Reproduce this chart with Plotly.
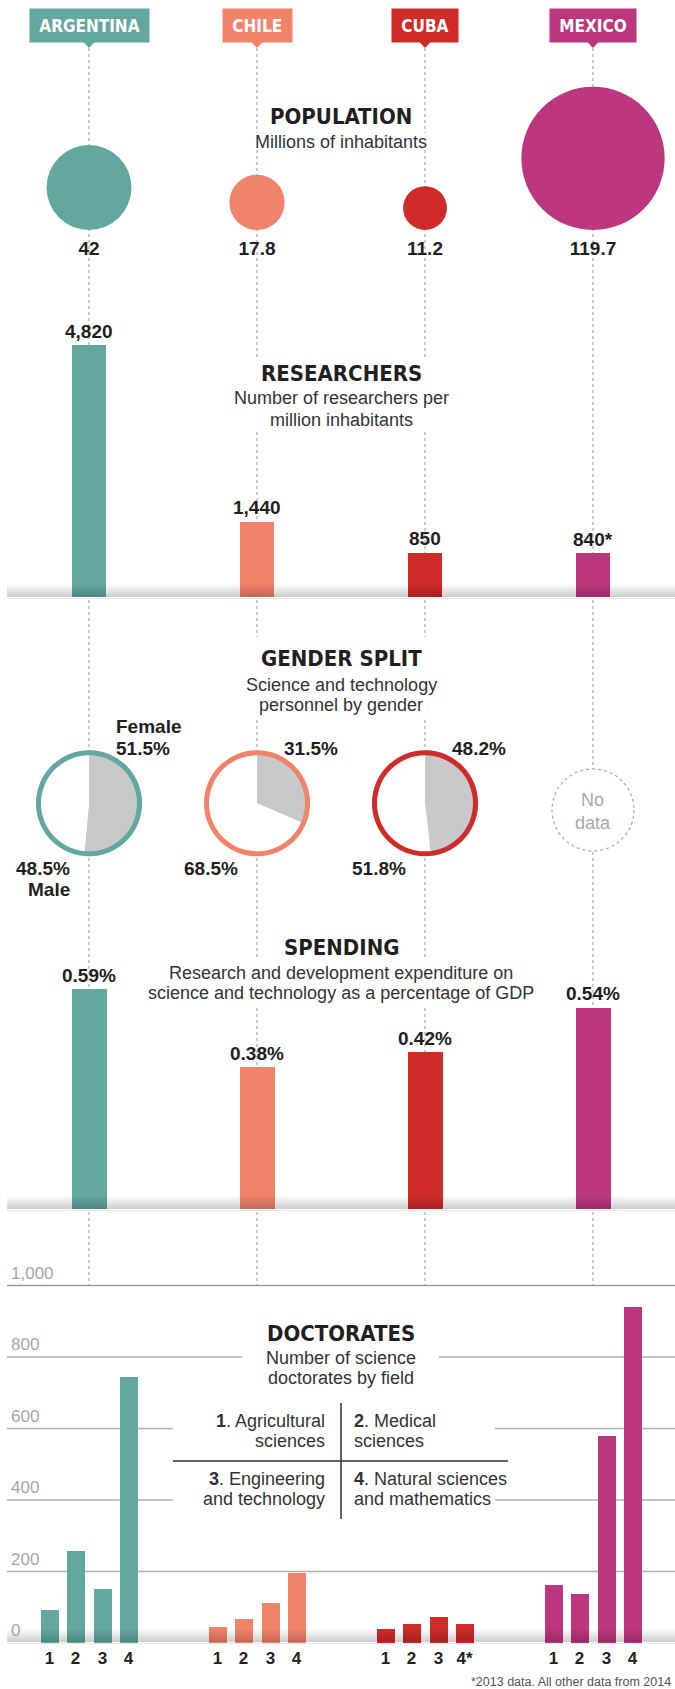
import math
import plotly.graph_objects as go

W, H = 675, 1689

# ---------------- data ----------------
countries = ["ARGENTINA", "CHILE", "CUBA", "MEXICO"]
colors = ["#63a89f", "#f2836b", "#cf2b29", "#bc377d"]

population = [42, 17.8, 11.2, 119.7]            # millions
researchers = [4820, 1440, 850, 840]            # per million inhabitants
researchers_note = ["", "", "", "*"]
female_pct = [51.5, 31.5, 48.2, None]
male_pct = [48.5, 68.5, 51.8, None]
spending = [0.59, 0.38, 0.42, 0.54]             # % of GDP

doct_agricultural = [91, 46, 38, 161]
doct_medical = [256, 66, 52, 136]
doct_engineering = [150, 113, 74, 579]
doct_natural = [744, 197, 52, 939]
doct_ticktext = [["1", "2", "3", "4"], ["1", "2", "3", "4"],
                 ["1", "2", "3", "4*"], ["1", "2", "3", "4"]]
doct_yticks = [0, 200, 400, 600, 800, 1000]
doct_yticklabels = ["0", "200", "400", "600", "800", "1,000"]
field_legend = [("1", ["Agricultural", "sciences"]),
                ("2", ["Medical", "sciences"]),
                ("3", ["Engineering", "and technology"]),
                ("4", ["Natural sciences", "and mathematics"])]

# ---------------- styling ----------------
TITLE_FONT = "Liberation Sans Narrow, Arial Narrow, DejaVu Sans Condensed, sans-serif"
BODY_FONT = "Liberation Sans, Arial, Helvetica, sans-serif"
INK = "#231f20"
SUB = "#333333"
PIE_GRAY = "#c8c9cb"

CX0, DX = 89.0, 168.0          # first column centre (px) and spacing (px)
XR = [-CX0 / DX, (W - CX0) / DX]


def py(px):
    return 1 - px / H


fig = go.Figure()
shapes = []
ann = []

# ---------------- axes ----------------
RS = 252.0 / 4820          # researchers px per unit
SS = 220.0 / 0.59          # spending px per unit
DS = 0.3575                # doctorates px per unit
POP_K = 6.55               # circle radius px per sqrt(million)

layout_axes = dict(
    xaxis=dict(domain=[0, 1], range=XR, visible=False, anchor="y"),
    yaxis=dict(domain=[py(270), py(40)], range=[-40, 190], visible=False, anchor="x"),
    xaxis2=dict(domain=[0, 1], range=XR, visible=False, anchor="y2"),
    yaxis2=dict(domain=[py(597), py(300)], range=[0, 297 / RS], visible=False, anchor="x2"),
    xaxis3=dict(domain=[0, 1], range=XR, visible=False, anchor="y3"),
    yaxis3=dict(domain=[py(1209), py(900)], range=[0, 309 / SS], visible=False, anchor="x3"),
    yaxis4=dict(domain=[py(1643), py(1270)], range=[0, 373 / DS], visible=False, anchor="x4"),
)

# ---------------- dotted guide lines ----------------
for i in range(4):
    shapes.append(dict(type="line", xref="x", yref="paper", x0=i, x1=i,
                       y0=py(48), y1=py(1286),
                       line=dict(color="#9a9a9a", width=1, dash="dot"), layer="below"))
# white masks behind title blocks
for (ya, yb) in [(133, 150), (357, 430), (637, 720), (958, 1006)]:
    shapes.append(dict(type="rect", xref="paper", yref="paper",
                       x0=232 / W, x1=450 / W, y0=py(yb), y1=py(ya),
                       fillcolor="white", line=dict(width=0), layer="below"))

# ---------------- header labels ----------------
for i, (name, col) in enumerate(zip(countries, colors)):
    ann.append(dict(xref="x", yref="paper", x=i, y=py(8), xanchor="center", yanchor="top",
                    text="&nbsp;" + name + "&nbsp;", showarrow=False, bgcolor=col,
                    borderpad=4, height=25,
                    font=dict(family=TITLE_FONT, size=17, color="white", weight="bold")))
    shapes.append(dict(type="path", xref="x", yref="paper", layer="above",
                       path=f"M {i - 7 / DX},{py(40.5)} L {i + 7 / DX},{py(40.5)} L {i},{py(48)} Z",
                       fillcolor=col, line=dict(width=0)))


def section_title(title, sub_lines, y_title, y_sub0, dy=20):
    ann.append(dict(xref="paper", yref="paper", x=341 / W, y=py(y_title), text=title,
                    showarrow=False, xanchor="center", yanchor="middle",
                    font=dict(family=TITLE_FONT, size=22, color=INK, weight="bold")))
    for k, line in enumerate(sub_lines):
        ann.append(dict(xref="paper", yref="paper", x=341 / W, y=py(y_sub0 + k * dy + 1),
                        text=line, showarrow=False, xanchor="center", yanchor="middle",
                        font=dict(family=BODY_FONT, size=18, color=SUB)))


# ---------------- population ----------------
radii = [POP_K * math.sqrt(p) for p in population]
fig.add_trace(go.Scatter(x=list(range(4)), y=radii, mode="markers",
                         marker=dict(size=[2 * r for r in radii], color=colors, line=dict(width=0),
                                     opacity=1),
                         hoverinfo="skip", showlegend=False, xaxis="x", yaxis="y"))
fig.add_trace(go.Scatter(x=list(range(4)), y=[-20] * 4, mode="text",
                         text=[f"{p:g}" for p in population], textposition="middle center",
                         textfont=dict(family=BODY_FONT, size=19, color=INK, weight="bold"),
                         hoverinfo="skip", showlegend=False, xaxis="x", yaxis="y"))
section_title("POPULATION", ["Millions of inhabitants"], 116, 141)

# ---------------- researchers ----------------
fig.add_trace(go.Bar(x=list(range(4)), y=researchers, width=34 / DX, marker=dict(color=colors, line=dict(width=0)),
                     hoverinfo="skip", showlegend=False, xaxis="x2", yaxis="y2"))
for i, (v, n) in enumerate(zip(researchers, researchers_note)):
    ann.append(dict(xref="x2", yref="y2", x=i, y=v, yshift=14, text=f"{v:,}{n}", showarrow=False,
                    xanchor="center", yanchor="middle",
                    font=dict(family=BODY_FONT, size=19, color=INK, weight="bold")))
section_title("RESEARCHERS", ["Number of researchers per", "million inhabitants"], 374, 397, 22)

# ---------------- gender split ----------------
PIE_CY, PIE_R, RING = 803.3, 53.0, 5.0
for i in range(4):
    cx = CX0 + DX * i
    if female_pct[i] is None:
        shapes.append(dict(type="circle", xref="paper", yref="paper",
                           x0=(cx - 41) / W, x1=(cx + 41) / W, y0=py(851), y1=py(769),
                           fillcolor="white", line=dict(color="#a8a8a8", width=1.2, dash="dot"),
                           layer="below"))
        ann.append(dict(xref="paper", yref="paper", x=cx / W, y=py(811), text="No<br>data",
                        showarrow=False, xanchor="center", yanchor="middle",
                        font=dict(family=BODY_FONT, size=18, color="#a8a8a8")))
        continue
    dom = dict(x=[(cx - PIE_R) / W, (cx + PIE_R) / W], y=[py(PIE_CY + PIE_R), py(PIE_CY - PIE_R)])
    fig.add_trace(go.Pie(values=[female_pct[i], male_pct[i]], domain=dom, sort=False,
                         direction="clockwise", rotation=0, textinfo="none",
                         marker=dict(colors=[PIE_GRAY, "white"], line=dict(width=0)),
                         hoverinfo="skip", showlegend=False))
    fig.add_trace(go.Pie(values=[1], domain=dom, hole=1 - RING / PIE_R, sort=False, textinfo="none",
                         marker=dict(colors=[colors[i]], line=dict(width=0)),
                         hoverinfo="skip", showlegend=False))
    f_lines = [f"{female_pct[i]}%"]
    m_lines = [f"{male_pct[i]}%"]
    if i == 0:
        f_lines = ["Female"] + f_lines
        m_lines = m_lines + ["Male"]
    for k, t in enumerate(reversed(f_lines)):
        ann.append(dict(xref="paper", yref="paper", x=(cx + 25) / W, y=py(748 - 22 * k), text=t,
                        showarrow=False, xanchor="left", yanchor="middle",
                        font=dict(family=BODY_FONT, size=19, color=INK, weight="bold")))
    for k, t in enumerate(m_lines):
        ann.append(dict(xref="paper", yref="paper", x=(cx - 17) / W, y=py(868 + 21 * k), text=t,
                        showarrow=False, xanchor="right", yanchor="middle",
                        font=dict(family=BODY_FONT, size=19, color=INK, weight="bold")))
section_title("GENDER SPLIT", ["Science and technology", "personnel by gender"], 658, 684)

# ---------------- spending ----------------
fig.add_trace(go.Bar(x=list(range(4)), y=spending, width=35 / DX, marker=dict(color=colors, line=dict(width=0)),
                     hoverinfo="skip", showlegend=False, xaxis="x3", yaxis="y3"))
for i, v in enumerate(spending):
    ann.append(dict(xref="x3", yref="y3", x=i, y=v, yshift=14, text=f"{v:.2f}%", showarrow=False,
                    xanchor="center", yanchor="middle",
                    font=dict(family=BODY_FONT, size=19, color=INK, weight="bold")))
section_title("SPENDING", ["Research and development expenditure on",
                           "science and technology as a percentage of GDP"], 947, 972)

# ---------------- doctorates ----------------
offsets = [-39.5 / DX, -13.5 / DX, 13.5 / DX, 39.5 / DX]
series = [doct_agricultural, doct_medical, doct_engineering, doct_natural]
bx, by, bc, bt = [], [], [], []
for i in range(4):
    for j in range(4):
        bx.append(i + offsets[j])
        by.append(series[j][i])
        bc.append(colors[i])
        bt.append(doct_ticktext[i][j])
fig.add_trace(go.Bar(x=bx, y=by, width=18 / DX, marker=dict(color=bc, line=dict(width=0)),
                     hoverinfo="skip", showlegend=False, xaxis="x4", yaxis="y4"))
layout_axes["xaxis4"] = dict(domain=[0, 1], range=XR, anchor="y4", tickmode="array",
                             tickvals=bx, ticktext=bt, showgrid=False, zeroline=False,
                             showline=False, ticks="", ticklen=0, ticklabelstandoff=3,
                             tickfont=dict(family=BODY_FONT, size=17, color=INK, weight="bold"))

grid_gaps = {1000: [], 800: [(242, 439)], 600: [(173, 495)], 400: [(173, 495)], 200: []}
for v, lab in zip(doct_yticks, doct_yticklabels):
    if v in grid_gaps:
        xs = [7]
        for a, b in grid_gaps[v]:
            xs += [a, b]
        xs.append(W)
        for a, b in zip(xs[0::2], xs[1::2]):
            shapes.append(dict(type="line", xref="paper", yref="y4", x0=a / W, x1=b / W, y0=v, y1=v,
                               line=dict(color="#b0b0b0" if v != 1000 else "#9a9a9a", width=1.3),
                               layer="below"))
    ann.append(dict(xref="paper", yref="y4", x=9 / W, y=v, yshift=1, text=lab, showarrow=False,
                    xanchor="left", yanchor="bottom",
                    font=dict(family=BODY_FONT, size=17, color="#a6a6a6")))

section_title("DOCTORATES", ["Number of science", "doctorates by field"], 1333, 1357)

# legend table
shapes.append(dict(type="line", xref="paper", yref="paper", x0=341 / W, x1=341 / W,
                   y0=py(1519), y1=py(1403), line=dict(color="#333333", width=1.5)))
shapes.append(dict(type="line", xref="paper", yref="paper", x0=173 / W, x1=508 / W,
                   y0=py(1461), y1=py(1461), line=dict(color="#333333", width=1.5)))
for k, (num, lines) in enumerate(field_legend):
    right = k % 2 == 0
    y0 = 1421 if k < 2 else 1479
    for m, line in enumerate(lines):
        txt = f"<b>{num}</b>. {line}" if m == 0 else line
        ann.append(dict(xref="paper", yref="paper", x=(327 if right else 352) / W, y=py(y0 + 20 * m),
                        text=txt, showarrow=False, xanchor="right" if right else "left",
                        yanchor="middle", font=dict(family=BODY_FONT, size=18, color=SUB)))

# ---------------- baseline gradient bands ----------------
for yb in [597, 1209, 1642]:
    n = 13
    for k in range(n):
        a = 0.19 * (k + 1) / n
        shapes.append(dict(type="rect", xref="paper", yref="paper", x0=7 / W, x1=1,
                           y0=py(yb - n + k + 1), y1=py(yb - n + k),
                           fillcolor=f"rgba(0,0,0,{a:.3f})", line=dict(width=0), layer="above"))
    shapes.append(dict(type="line", xref="paper", yref="paper", x0=7 / W, x1=1,
                       y0=py(yb + 1.5), y1=py(yb + 1.5), line=dict(color="#e6e6e6", width=1),
                       layer="above"))

# footnote
ann.append(dict(xref="paper", yref="paper", x=673 / W, y=py(1682), text="*2013 data. All other data from 2014",
                showarrow=False, xanchor="right", yanchor="middle",
                font=dict(family=BODY_FONT, size=12.5, color="#555555")))

fig.update_layout(width=W, height=H, margin=dict(l=0, r=0, t=0, b=0),
                  paper_bgcolor="white", plot_bgcolor="rgba(0,0,0,0)",
                  shapes=shapes, annotations=ann, showlegend=False, bargap=0,
                  font=dict(family=BODY_FONT), **layout_axes)

fig.write_html("out.html", config={"displayModeBar": False})
